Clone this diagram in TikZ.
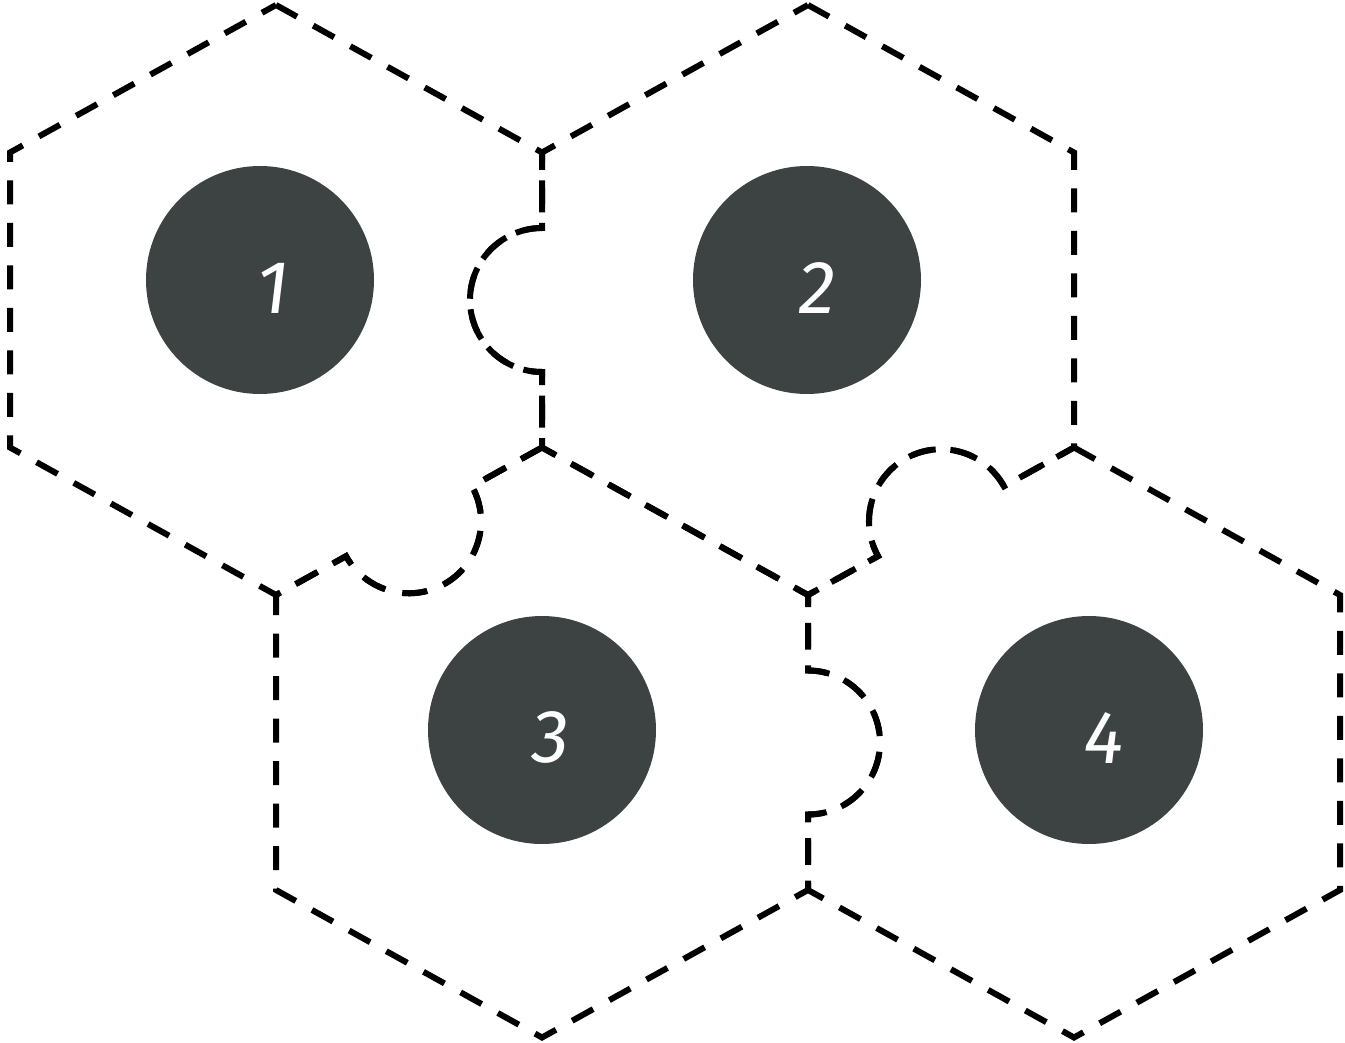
\documentclass[tikz,border=0pt]{standalone}
\usepackage{fontspec}
\usepackage{xcolor}
\newfontfamily\numfont[FakeSlant=0.12]{Fira Sans}
\definecolor{discgray}{HTML}{3D4242}

\begin{document}
\begin{tikzpicture}[x=1pt,y=-1pt,
  piece/.style={line width=6pt,dash pattern=on 24pt off 18.5pt,line join=miter},
  disc/.style={circle,fill=discgray,minimum size=228pt,inner sep=0pt},
  digit/.style={text=white,font=\numfont\fontsize{75}{75}\selectfont,inner sep=0pt}]
\useasboundingbox (0,0) rectangle (1345,1043);
\draw[piece] (276,5) -- (542,152.5) -- (542,228) arc[start angle=270,end angle=90,radius=72] -- (542,447.5) -- (472,486.35) arc[start angle=-29,end angle=151,radius=72] -- (276,595) -- (10,447.5) -- (10,152.5) -- cycle;
\draw[piece] (808,5) -- (1074,152.5) -- (1074,447.5) -- (1004,486.35) arc[start angle=331,end angle=151,radius=72] -- (808,595) -- (542,447.5) -- (542,372) arc[start angle=90,end angle=270,radius=72] -- (542,152.5) -- cycle;
\draw[piece] (542,447.5) -- (472,486.35) arc[start angle=-29,end angle=151,radius=72] -- (276,595) -- (276,890) -- (542,1037.5) -- (808,890) -- (808,814.5) arc[start angle=90,end angle=-90,radius=72] -- (808,595) -- cycle;
\draw[piece] (1074,447.5) -- (1340,595) -- (1340,890) -- (1074,1037.5) -- (808,890) -- (808,814.5) arc[start angle=90,end angle=-90,radius=72] -- (808,595) -- (878,556.15) arc[start angle=151,end angle=331,radius=72] -- cycle;
\node[disc] (disc1) at (260,280) {};
\node[disc] (disc2) at (807,280) {};
\node[disc] (disc3) at (542,730) {};
\node[disc] (disc4) at (1089,730) {};
\node[digit] (num1) at (271,288) {1};
\node[digit] (num2) at (815,288) {2};
\node[digit] (num3) at (548,737) {3};
\node[digit] (num4) at (1101,738) {4};
\end{tikzpicture}
\end{document}
